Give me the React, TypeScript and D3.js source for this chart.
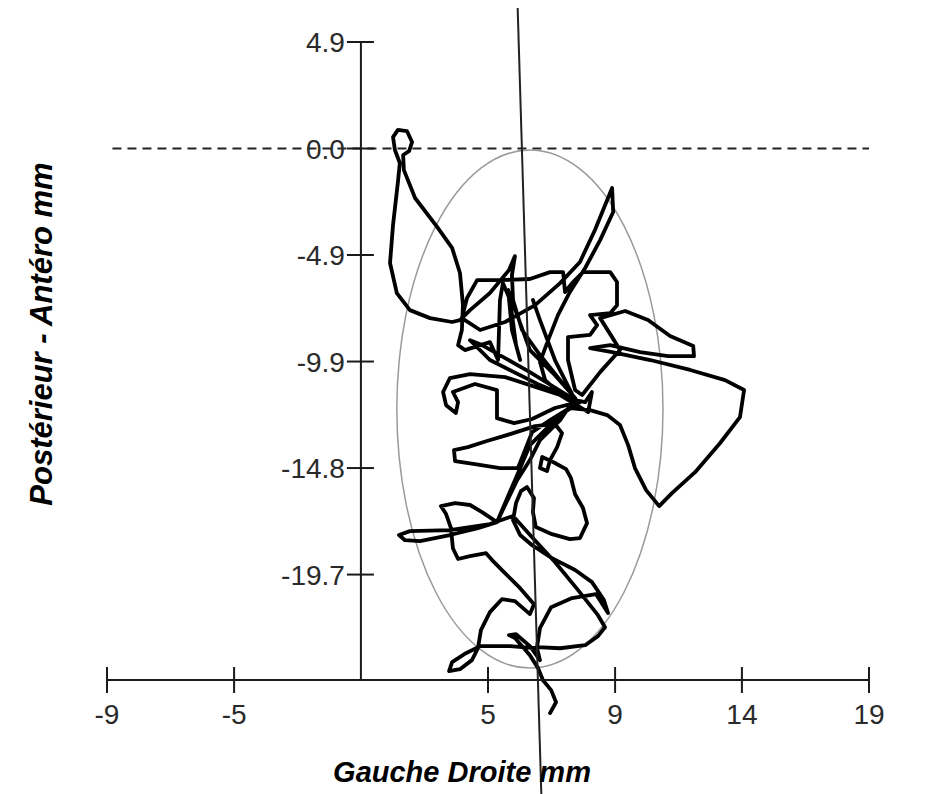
import * as d3 from "d3";

// centre of pressure trace, mm (Gauche/Droite, Postérieur/Antéro)
const copX = [
  7.28, 7.5, 7.32, 7.02, 6.84, 6.54, 5.99, 5.77, 6.03, 6.54, 6.91, 6.8, 5.81, 4.71, 4.19, 3.68, 3.57, 3.97, 4.41, 4.63,
  4.74, 5.07, 5.51, 5.99, 6.54, 6.69, 6.18, 5.55, 5.15, 4.93, 4.34, 3.9, 3.71, 3.64, 3.46, 3.27, 3.79, 4.34, 4.78, 5.33,
  4.63, 3.6, 2.5, 1.95, 1.73, 2.13, 3.6, 5.07, 5.92, 6.62, 7.46, 8.31, 9.04, 9.3, 9.04, 8.57, 7.65, 6.8, 6.91, 7.32,
  8.09, 8.97, 9.41, 9.26, 8.82, 8.2, 7.35, 6.62, 6.18, 5.92, 6.03, 6.21, 6.43, 6.69, 6.65, 6.76, 7.35, 8.01, 8.38, 8.64,
  8.49, 8.2, 8.05, 7.87, 7.39, 6.99, 6.91, 7.17, 7.28, 7.54, 7.72, 7.46, 6.73, 5.81, 4.96, 4.26, 3.75, 3.79, 4.52, 5.44,
  6.1, 6.36, 6.62, 7.28, 8.01, 8.75, 9.38, 9.85, 10.15, 10.4, 10.81, 11.29, 11.76, 12.61, 13.53, 14.26, 14.41, 13.71, 12.43, 10.96,
  9.56, 8.75, 9.49, 10.59, 11.62, 12.57, 12.54, 11.69, 10.88, 10.04, 9.12, 9.56, 9.85, 9.12, 8.46, 8.2, 7.94, 7.94, 8.75, 9.01,
  8.75, 9.49, 9.74, 9.74, 9.49, 8.49, 8.09, 7.83, 7.76, 7.28, 6.54, 5.44, 4.6, 4.23, 4.04, 4.71, 5.63, 6.73, 7.65, 8.38,
  8.93, 9.38, 9.56, 9.6, 9.12, 8.57, 8.01, 7.57, 7.21, 6.91, 7.1, 7.83, 8.57, 8.82, 8.68, 7.65, 6.54, 5.63, 4.34, 3.6,
  3.35, 3.46, 3.82, 3.9, 3.71, 4.52, 5.33, 5.33, 5.96, 6.62, 7.46, 8.31, 7.65, 6.91, 6.25, 5.92, 5.88, 5.99, 5.77, 5.07,
  4.34, 3.97, 3.68, 2.87, 2.13, 1.65, 1.4, 1.51, 1.69, 1.76, 1.58, 1.51, 1.69, 2.02, 2.21, 2.1, 1.88, 1.91, 2.32, 3.13,
  3.68, 3.97, 4.08, 4.04, 3.9, 4.15, 5.07, 5.37, 5.44, 5.55, 5.81, 6.03, 6.18, 5.88, 5.74, 6.54, 7.46, 8.2, 7.65, 6.91,
  6.54, 6.07, 5.63, 5.33, 5.99, 6.54, 7.65, 8.38, 6.91, 5.07, 4.34, 4.78, 6.54, 8.2, 7.46, 6.91, 6.65,
];
const copY = [
  -26.13, -25.63, -25.07, -24.61, -24.05, -23.45, -22.66, -22.52, -22.48, -23.03, -23.68, -23.13, -23.03, -23.03, -23.36, -23.77, -24.19, -24.1, -23.68, -23.13,
  -22.29, -21.46, -20.86, -20.95, -21.55, -21.09, -20.35, -19.56, -19.05, -18.73, -18.87, -19.0, -18.5, -17.57, -16.92, -16.55, -16.41, -16.5, -16.83, -17.29,
  -17.57, -17.89, -18.17, -18.13, -17.89, -17.71, -17.66, -17.38, -17.01, -17.99, -19.14, -20.44, -21.6, -22.16, -22.57, -22.99, -23.13, -23.08, -22.2, -21.23,
  -20.81, -20.63, -21.5, -20.9, -20.07, -19.51, -18.96, -18.36, -17.89, -17.2, -16.41, -15.86, -15.67, -16.18, -16.83, -17.52, -17.85, -18.08, -18.03, -17.34,
  -16.64, -16.0, -15.26, -14.84, -14.51, -14.28, -14.79, -14.93, -14.42, -13.82, -13.17, -12.75, -12.85, -13.22, -13.54, -13.82, -13.96, -14.47, -14.61, -14.79,
  -14.79, -13.96, -13.13, -12.57, -12.01, -12.11, -12.34, -12.8, -13.73, -14.79, -15.81, -16.55, -15.95, -14.98, -13.63, -12.43, -11.18, -10.72, -10.25, -9.79,
  -9.42, -9.24, -9.1, -9.42, -9.61, -9.61, -9.14, -8.68, -7.94, -7.52, -7.85, -8.73, -9.33, -10.35, -11.41, -11.18, -9.79, -8.73, -8.63, -8.17,
  -7.71, -7.62, -7.25, -6.18, -5.72, -5.72, -6.23, -6.64, -5.72, -5.72, -6.04, -6.09, -6.09, -6.92, -7.85, -8.4, -8.03, -7.25, -6.23, -5.25,
  -3.77, -2.38, -1.83, -2.94, -4.24, -5.53, -6.64, -7.71, -8.87, -9.88, -10.72, -11.55, -11.74, -11.27, -12.2, -11.41, -10.95, -10.58, -10.44, -10.63,
  -11.27, -11.88, -12.24, -11.74, -11.27, -10.9, -11.18, -12.48, -12.71, -12.52, -12.01, -11.74, -10.72, -9.56, -8.4, -7.01, -5.86, -4.98, -5.63, -6.69,
  -7.48, -7.94, -8.03, -7.85, -7.48, -6.69, -5.3, -3.54, -1.55, -0.67, -0.07, 0.53, 0.86, 0.81, 0.3, -0.12, -0.3, -1.0, -2.29, -3.63,
  -4.6, -5.76, -7.25, -8.4, -9.1, -9.33, -8.96, -9.79, -7.01, -6.23, -7.01, -9.1, -9.79, -8.4, -6.55, -9.33, -10.49, -11.55, -12.57, -13.5,
  -14.42, -15.35, -16.5, -17.29, -15.35, -13.73, -12.34, -11.74, -10.95, -9.79, -8.87, -9.1, -10.35, -11.64, -9.79, -7.94, -7.01,
];

// axes
const xTickValues = [-9, -4.33, 5, 9.67, 14.33, 19];
const xTickLabels = ["-9", "-5", "5", "9", "14", "19"];
const yTickValues = [4.93, 0, -4.93, -9.86, -14.79, -19.72];
const yTickLabels = ["4.9", "0.0", "-4.9", "-9.9", "-14.8", "-19.7"];
const xAxisAt = -24.6;
const yAxisAt = 0.33;

// confidence ellipse: centre, radii (mm)
const ellipseCentre = [6.54, -12.06];
const ellipseRadii = [4.89, 11.99];

// orientation line (mm)
const orientX = [6.09, 6.96];
const orientY = [6.5, -29.88];

const W = 928;
const H = 794;
const FONT = "'Liberation Sans', Arial, sans-serif";

export default function App() {
  const x = d3.scaleLinear().domain([-9, 19]).range([107, 869]);
  const y = d3.scaleLinear().domain([xAxisAt, 4.93]).range([680, 42]);

  const pts: [number, number][] = copX.map((v, i) => [v, copY[i]]);
  const line = d3
    .line<[number, number]>()
    .x((d) => x(d[0]))
    .y((d) => y(d[1]));

  const axisColor = "#1a1a1a";

  return (
    <svg
      width={W}
      height={H}
      style={{ position: "absolute", left: 0, top: 0, background: "#fff" }}
    >
      <rect x={0} y={0} width={W} height={H} fill="#fff" />

      {/* zero reference, dashed */}
      <line
        x1={x(-8.8)}
        x2={x(19)}
        y1={y(0)}
        y2={y(0)}
        stroke="#222"
        strokeWidth={1.8}
        strokeDasharray="9,6"
      />

      {/* ellipse */}
      <ellipse
        cx={x(ellipseCentre[0])}
        cy={y(ellipseCentre[1])}
        rx={x(ellipseRadii[0]) - x(0)}
        ry={y(0) - y(ellipseRadii[1])}
        fill="none"
        stroke="#9a9a9a"
        strokeWidth={1.5}
      />

      {/* trace */}
      <path
        d={line(pts) ?? ""}
        fill="none"
        stroke="#000"
        strokeWidth={3.8}
        strokeLinejoin="round"
        strokeLinecap="round"
      />

      {/* x axis */}
      <line x1={x(-9)} x2={x(19)} y1={y(xAxisAt)} y2={y(xAxisAt)} stroke={axisColor} strokeWidth={2} />
      {xTickValues.map((v, i) => (
        <g key={v} transform={`translate(${x(v)},${y(xAxisAt)})`}>
          <line y1={-13} y2={13} stroke={axisColor} strokeWidth={2} />
          <text
            y={44}
            textAnchor="middle"
            fontFamily={FONT}
            fontSize={28}
            fill="#2a2a2a"
          >
            {xTickLabels[i]}
          </text>
        </g>
      ))}

      {/* y axis */}
      <line x1={x(yAxisAt)} x2={x(yAxisAt)} y1={y(4.93)} y2={y(xAxisAt)} stroke={axisColor} strokeWidth={2} />
      {yTickValues.map((v, i) => (
        <g key={v} transform={`translate(${x(yAxisAt)},${y(v)})`}>
          <line x1={-14} x2={13} stroke={axisColor} strokeWidth={2} />
          <text
            x={-16}
            dy="0.36em"
            textAnchor="end"
            fontFamily={FONT}
            fontSize={28}
            fill="#2a2a2a"
          >
            {yTickLabels[i]}
          </text>
        </g>
      ))}

      {/* orientation line */}
      <line
        x1={x(orientX[0])}
        x2={x(orientX[1])}
        y1={y(orientY[0])}
        y2={y(orientY[1])}
        stroke="#222"
        strokeWidth={2}
      />

      {/* titles */}
      <text
        x={462}
        y={782}
        textAnchor="middle"
        fontFamily={FONT}
        fontSize={29}
        fontWeight="bold"
        fontStyle="italic"
        fill="#000"
      >
        Gauche Droite mm
      </text>
      <text
        transform="translate(52,334) rotate(-90)"
        textAnchor="middle"
        fontFamily={FONT}
        fontSize={31}
        fontWeight="bold"
        fontStyle="italic"
        fill="#000"
      >
        Postérieur - Antéro mm
      </text>
    </svg>
  );
}
